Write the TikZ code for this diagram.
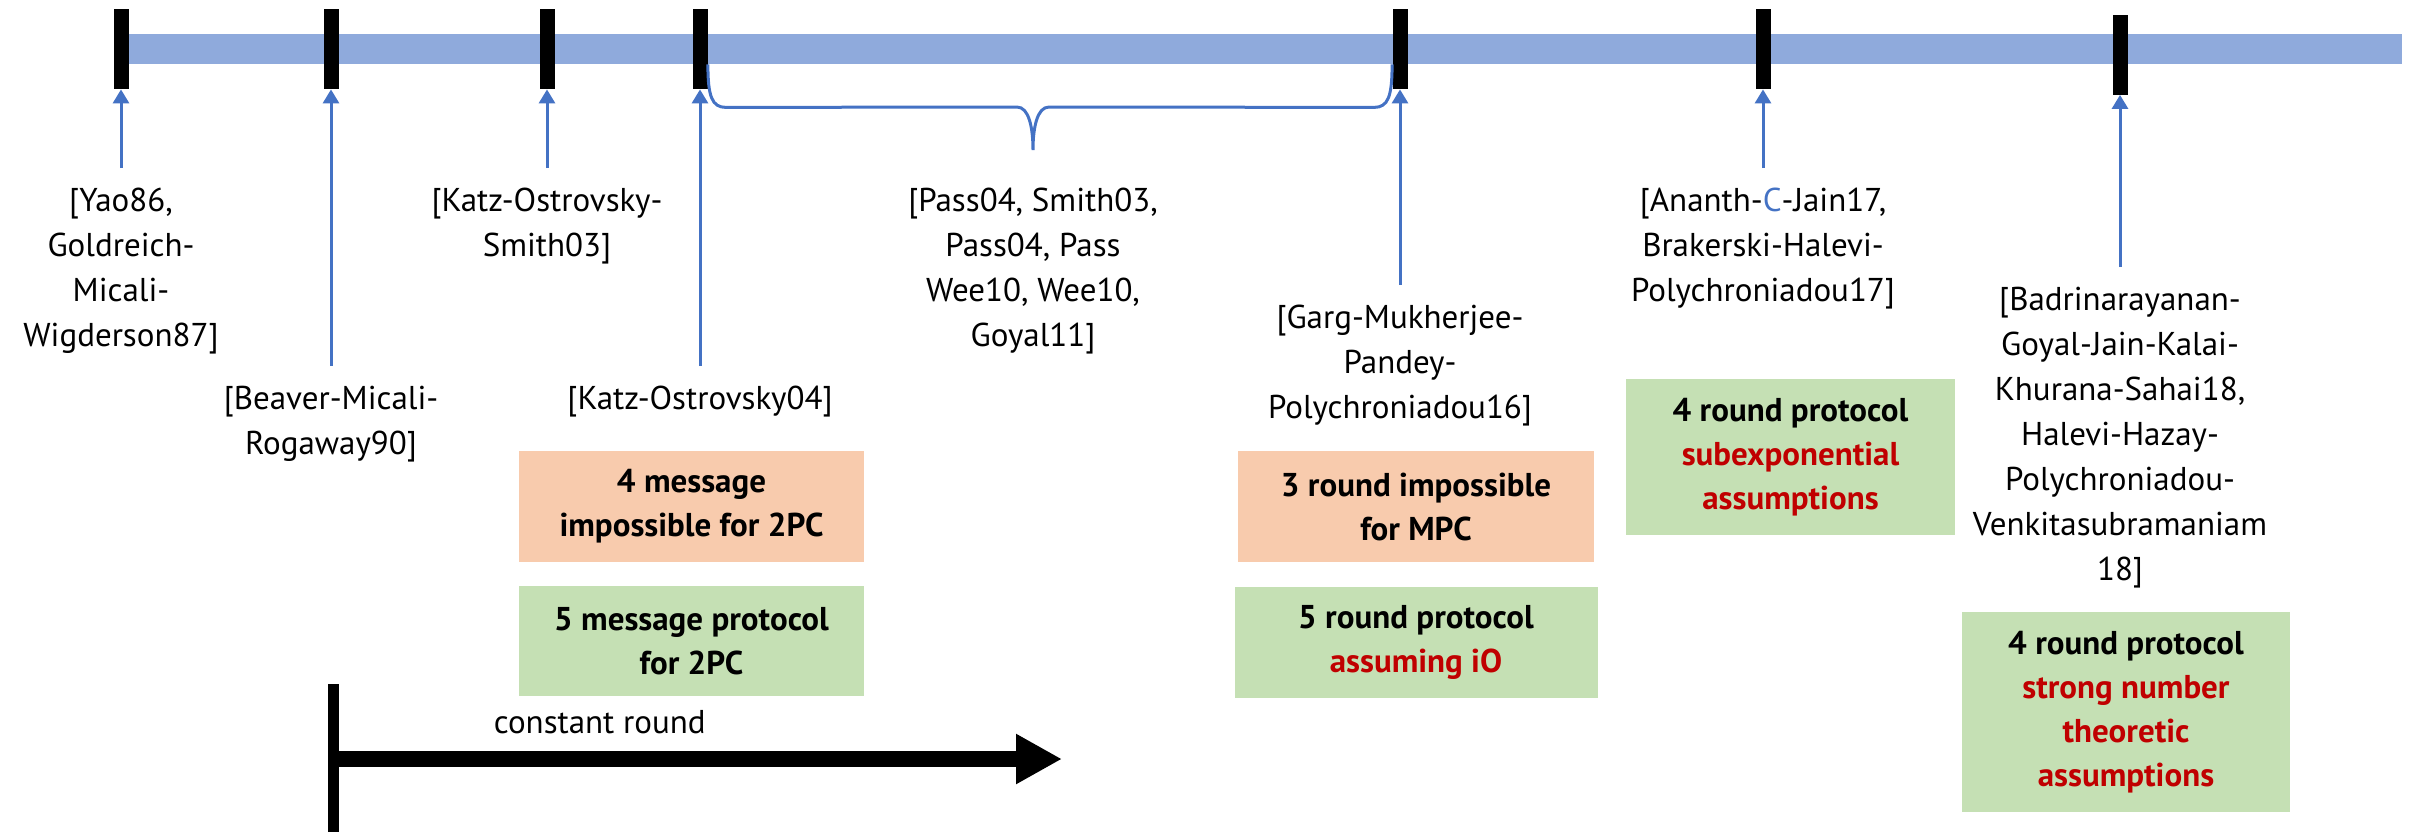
\documentclass[tikz,border=0pt]{standalone}
\usepackage{fontspec}
\setmainfont{PT Sans}
\usepackage{xcolor}
\usetikzlibrary{arrows.meta, calc, positioning}
\definecolor{barblue}{HTML}{8FAADC}
\definecolor{citeblue}{HTML}{4472C4}
\definecolor{impossorange}{HTML}{F8CBAD}
\definecolor{protogreen}{HTML}{C5E0B4}
\definecolor{assumred}{HTML}{C00000}
\tikzset{
  %timeline tick
  milestone/.style={
    fill=black
    , inner sep=0pt
    , minimum width=7.5pt
    , minimum height=40pt
  },
  %reference list hanging under a tick
  cite/.style={
    align=center
    , anchor=north
    , font=\fontsize{16.5}{22.5}\selectfont
    , inner xsep=0pt
    , inner ysep=10pt
  },
  citearrow/.style={
    draw=citeblue
    , line width=1.5pt
    , -{Triangle[length=7pt, width=8pt]}
  },
  brace/.style={
    draw=citeblue
    , line width=1.5pt
  },
  %result boxes
  result/.style={
    align=center
    , font=\fontsize{16.5}{22}\selectfont\bfseries
    , inner sep=0pt
    , text centered
  },
  impossible/.style={result, fill=impossorange},
  protocol/.style={result, fill=protogreen},
}

\begin{document}
\begin{tikzpicture}[x=0.5pt, y=-0.5pt]
  \useasboundingbox (0,0) rectangle (2417,832);

  % the time line
  \node[fill=barblue, inner sep=0pt, minimum width=1136.5pt, minimum height=15pt,
        anchor=west] (bar) at (129,49) {};
  \foreach \name/\x/\y in {t1/121/49, t2/331/49, t3/547/49, t4/700/49,
                           t5/1400/49, t6/1763/49, t7/2120/54.5}
    \node[milestone] (\name) at (\x,\y) {};

  % references
  \node[cite] (yao) at (121,168) {[Yao86,\\Goldreich-\\Micali-\\Wigderson87]};
  \node[cite] (bmr) at (331,366) {[Beaver-Micali-\\Rogaway90]};
  \node[cite] (kos) at (547,168) {[Katz-Ostrovsky-\\Smith03]};
  \node[cite] (ko) at (700,366) {[Katz-Ostrovsky04]};
  \node[cite] (gmpp) at (1400,285) {[Garg-Mukherjee-\\Pandey-\\Polychroniadou16]};
  \node[cite] (acj) at (1763,168)
    {[Ananth-\textcolor{citeblue}{C}-Jain17,\\Brakerski-Halevi-\\Polychroniadou17]};
  \node[cite] (bgjks) at (2120,267)
    {[Badrinarayanan-\\Goyal-Jain-Kalai-\\Khurana-Sahai18,\\Halevi-Hazay-\\Polychroniadou-\\Venkitasubramaniam\\18]};

  \foreach \c/\t in {yao/t1, bmr/t2, kos/t3, ko/t4, gmpp/t5, acj/t6, bgjks/t7}
    \draw[citearrow] (\c.north) -- (\t.south);

  % brace over the works between the two ticks
  \coordinate (bl) at (t4.east |- bar.south);
  \coordinate (br) at (t5.west |- bar.south);
  \coordinate (tip) at (1033,150);
  \draw[brace] (bl) .. controls +(0,32) and +(-14,0) .. ($(bl)+(18,43)$)
    -- ($(tip)+(-16,-43)$) .. controls +(12,0) and +(0,-22) .. (tip)
    .. controls +(0,-22) and +(-12,0) .. ($(tip)+(16,-43)$)
    -- ($(br)+(-18,43)$) .. controls +(14,0) and +(0,32) .. (br);
  \node[cite, inner ysep=0pt, below=19pt of tip] (pass)
    {[Pass04, Smith03,\\Pass04, Pass\\Wee10, Wee10,\\Goyal11]};

  % results
  \node[impossible, minimum width=172.5pt, minimum height=55.5pt] (imp2pc)
    at (691.5,506.5) {4 message\\impossible for 2PC};
  \node[protocol, minimum width=172.5pt, minimum height=55pt,
        below=11.5pt of imp2pc] (prot2pc) {5 message protocol\\for 2PC};
  \node[impossible, minimum width=178pt, minimum height=55.5pt] (impmpc)
    at (1416,506.5) {3 round impossible\\for MPC};
  \node[protocol, minimum width=181.5pt, minimum height=55.5pt,
        below=12pt of impmpc] (protio)
    {5 round protocol\\\textcolor{assumred}{assuming iO}};
  \node[protocol, minimum width=164.5pt, minimum height=78pt] (protsub)
    at (1790.5,457) {4 round protocol\\\textcolor{assumred}{subexponential}\\\textcolor{assumred}{assumptions}};
  \node[protocol, minimum width=164pt, minimum height=100pt] (protnum)
    at (2126,712) {4 round protocol\\\textcolor{assumred}{strong number}\\\textcolor{assumred}{theoretic}\\\textcolor{assumred}{assumptions}};

  % constant round
  \coordinate (crtop) at (333,684);
  \coordinate (crbot) at (333,832);
  \coordinate (crtip) at (1062,759);
  \draw[line width=5.5pt] (crtop) -- (crbot);
  \draw[line width=8pt, -{Triangle[length=23pt, width=23.5pt]}]
    (crtop |- crtip) -- (crtip)
    node[pos=0.366, above=8.5pt, inner sep=0pt, font=\fontsize{16.5}{20}\selectfont] (cr) {constant round};
\end{tikzpicture}
\end{document}
